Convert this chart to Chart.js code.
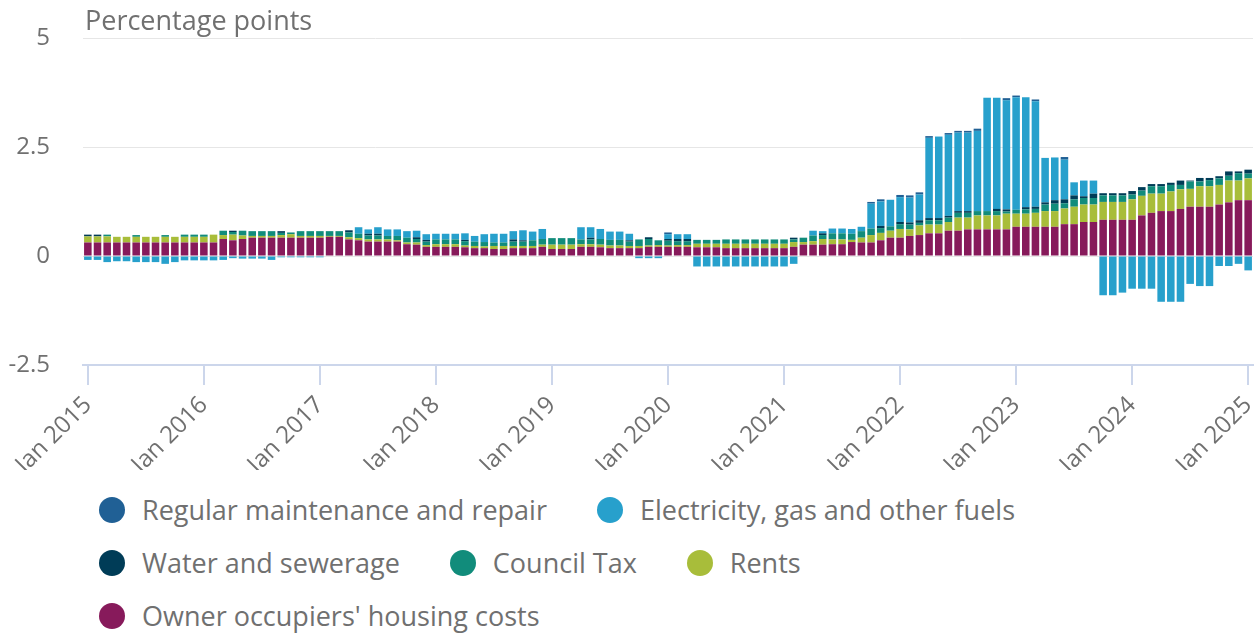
<!DOCTYPE html>
<html>
<head>
<meta charset="utf-8">
<script src="https://cdn.jsdelivr.net/npm/chart.js@4.4.1/dist/chart.umd.min.js"></script>
<style>
  body { margin: 0; background: #fff; font-family: 'Open Sans', sans-serif; }
  #wrap { position: relative; width: 1259px; height: 635px; }
  #box { position: absolute; left: 0; top: 0; width: 1259px; height: 470px; }
  #unit { position: absolute; left: 85px; top: 4px; font-size: 27px; line-height: 32px; color: #707070; }
  #legend { position: absolute; left: 99px; top: 483px; width: 1160px; display: flex; flex-wrap: wrap; }
  .item { display: flex; align-items: center; height: 53px; margin-right: 50px; font-size: 27px; color: #707070; white-space: nowrap; }
  .dot { width: 26px; height: 26px; border-radius: 50%; margin-right: 17px; }
</style>
</head>
<body>
<div id="wrap">
  <div id="box"><canvas id="myChart"></canvas></div>
  <div id="unit">Percentage points</div>
  <div id="legend"></div>
</div>
<script>
// monthly categories, Jan 2015 to Jan 2025
const monthNames = ['Jan', 'Feb', 'Mar', 'Apr', 'May', 'Jun', 'Jul', 'Aug', 'Sep', 'Oct', 'Nov', 'Dec'];
const years = [2015, 2016, 2017, 2018, 2019, 2020, 2021, 2022, 2023, 2024];
const lastLabel = 'Jan 2025';

// contributions, percentage points (one row per year)
const ownerOccupiers = [
    .31, .31, .31, .31, .31, .31, .31, .31, .31, .31, .31, .31,
    .31, .31, .39, .36, .39, .42, .42, .42, .42, .42, .42, .42,
    .42, .44, .44, .38, .36, .33, .33, .33, .33, .27, .26, .21,
    .21, .21, .21, .20, .18, .18, .16, .16, .18, .18, .18, .21,
    .16, .16, .16, .21, .21, .20, .18, .18, .18, .18, .21, .21,
    .21, .21, .21, .20, .20, .20, .18, .18, .18, .18, .18, .18,
    .18, .21, .26, .26, .26, .27, .27, .32, .31, .31, .36, .42,
    .42, .46, .48, .52, .52, .58, .58, .61, .61, .61, .61, .61,
    .67, .67, .67, .67, .67, .73, .73, .78, .78, .83, .83, .83,
    .83, .93, .99, 1.03, 1.03, 1.08, 1.13, 1.13, 1.13, 1.18, 1.23, 1.28,
    1.28
];
const rents = [
    .14, .14, .14, .13, .13, .13, .13, .13, .13, .13, .13, .13,
    .13, .18, .09, .13, .08, .04, .04, .04, .06, .08, .04, .04,
    .04, .02, .02, .05, .05, .05, .05, .05, .03, .04, .05, .04,
    .06, .06, .06, .04, .05, .04, .07, .07, .05, .05, .05, .05,
    .10, .10, .10, .06, .06, .06, .06, .06, .05, .05, .03, .04,
    .03, .04, .04, .08, .08, .08, .10, .10, .10, .10, .10, .10,
    .10, .11, .06, .08, .13, .11, .11, .05, .11, .17, .17, .16,
    .20, .15, .22, .20, .20, .20, .30, .27, .32, .32, .32, .36,
    .30, .30, .32, .36, .36, .36, .40, .40, .40, .41, .41, .41,
    .47, .45, .44, .40, .45, .45, .41, .47, .47, .45, .50, .45,
    .50
];
const councilTax = [
    0, 0, .04, 0, 0, .04, 0, 0, .04, 0, .05, .05,
    .05, 0, .10, .06, .11, .11, .11, .11, .05, .04, .11, .11,
    .11, .11, .11, .11, .10, .09, .09, .08, .10, .11, .08, .08,
    .11, .11, .11, .10, .10, .10, .08, .08, .10, .10, .13, .13,
    .15, .15, .15, .11, .11, .13, .13, .13, .10, .15, .15, .11,
    .11, .09, .09, .09, .09, .09, .10, .10, .10, .10, .10, .10,
    .10, .06, .10, .13, .09, .14, .14, .14, .15, .15, .11, .10,
    .11, .11, .06, .10, .10, .10, .11, .11, .10, .10, .10, .05,
    .09, .10, .09, .15, .17, .12, .17, .15, .15, .15, .15, .15,
    .11, .12, .17, .17, .15, .10, .17, .11, .14, .15, .11, .17,
    .11
];
const water = [
    .04, .04, 0, 0, 0, 0, 0, 0, 0, 0, 0, 0,
    0, 0, 0, .03, 0, 0, 0, 0, .04, 0, 0, 0,
    0, 0, 0, .05, 0, .04, .04, 0, 0, 0, .04, .04,
    0, 0, 0, .03, 0, 0, 0, 0, .05, .03, 0, 0,
    0, 0, 0, 0, .04, 0, 0, 0, .03, 0, .04, 0,
    .04, .05, .05, 0, 0, 0, 0, 0, 0, 0, 0, 0,
    0, .04, 0, 0, .04, 0, 0, 0, 0, 0, .05, 0,
    .05, .05, .06, .05, .05, .04, .04, .04, 0, 0, .05, .05,
    0, .05, .05, .05, .08, .09, .09, .04, .10, .05, .05, .05,
    .08, .08, .05, .05, .05, .10, .02, .08, .05, .05, .10, .04,
    .09
];
const electricity = [
    -.09, -.09, -.14, -.12, -.12, -.14, -.14, -.14, -.18, -.14, -.10, -.10,
    -.10, -.10, -.09, -.05, -.06, -.06, -.06, -.09, -.03, -.03, -.03, -.03,
    -.03, 0, 0, 0, .15, .10, .15, .15, .15, .15, .15, .13,
    .13, .13, .13, .15, .13, .18, .20, .20, .19, .23, .20, .23,
    0, 0, 0, .28, .24, .23, .19, .19, .15, -.05, -.05, -.05,
    .11, .11, .11, -.24, -.24, -.24, -.24, -.24, -.24, -.24, -.24, -.24,
    -.24, -.18, 0, .11, .05, .11, .11, .11, .10, .57, .56, .61,
    .57, .57, .59, 1.84, 1.87, 1.86, 1.80, 1.80, 1.84, 2.60, 2.55, 2.50,
    2.58, 2.52, 2.42, 1.02, .98, .91, .30, .36, .30, -.90, -.90, -.84,
    -.75, -.75, -.75, -1.05, -1.05, -1.05, -.64, -.69, -.69, -.23, -.23, -.18,
    -.33
];
const maintenance = [
    0, 0, 0, 0, 0, 0, 0, 0, 0, 0, 0, 0,
    0, 0, 0, 0, 0, 0, 0, 0, 0, 0, 0, 0,
    0, 0, 0, 0, 0, 0, 0, 0, 0, 0, 0, 0,
    0, 0, 0, 0, 0, 0, 0, 0, 0, 0, 0, 0,
    0, 0, 0, 0, 0, 0, 0, 0, 0, 0, 0, 0,
    .04, 0, 0, 0, 0, 0, 0, 0, 0, 0, 0, 0,
    0, 0, 0, 0, 0, 0, 0, 0, 0, .04, .05, 0,
    .05, .05, .05, .04, 0, .04, .04, .04, .05, 0, 0, .05,
    .04, 0, .04, 0, 0, .06, 0, 0, 0, 0, 0, 0,
    0, 0, 0, 0, 0, 0, 0, 0, 0, 0, 0, 0,
    0
];

const labels = [];
years.forEach(y => monthNames.forEach(m => labels.push(m + ' ' + y)));
labels.push(lastLabel);

// bottom of the stack first
const series = [
    { label: "Owner occupiers' housing costs", data: ownerOccupiers, color: '#871a5b' },
    { label: 'Rents', data: rents, color: '#a8bd3a' },
    { label: 'Council Tax', data: councilTax, color: '#118c7b' },
    { label: 'Water and sewerage', data: water, color: '#003c57' },
    { label: 'Electricity, gas and other fuels', data: electricity, color: '#27a0cc' },
    { label: 'Regular maintenance and repair', data: maintenance, color: '#206095' }
];

Chart.defaults.font.family = "'Open Sans', sans-serif";
Chart.defaults.color = '#707070';

const ctx = document.getElementById('myChart');
new Chart(ctx, {
    type: 'bar',
    data: {
        labels: labels,
        datasets: series.map(s => ({
            label: s.label,
            data: s.data,
            backgroundColor: s.color,
            borderWidth: 0,
            barPercentage: 0.78,
            categoryPercentage: 1
        }))
    },
    options: {
        responsive: true,
        maintainAspectRatio: false,
        animation: false,
        layout: { padding: { left: 0, right: 6, top: 38, bottom: 0 } },
        plugins: {
            legend: { display: false },
            tooltip: { enabled: false }
        },
        scales: {
            x: {
                stacked: true,
                grid: { offset: false, drawOnChartArea: false, color: '#ccd6eb', lineWidth: 2, tickLength: 20 },
                border: { color: '#ccd6eb', width: 2 },
                ticks: {
                    autoSkip: false,
                    maxRotation: 45,
                    minRotation: 45,
                    padding: 6,
                    color: '#707070',
                    font: { size: 24 },
                    callback: (v, i) => (i % 12 === 0 ? labels[i] : null)
                },
                afterFit: (scale) => {
                    scale.height = 105;
                    scale.paddingLeft = 0;
                    scale.paddingRight = 0;
                }
            },
            y: {
                stacked: true,
                min: -2.5,
                max: 5,
                ticks: { stepSize: 2.5, padding: 33, color: '#707070', font: { size: 24 } },
                grid: { color: '#e6e6e6', drawTicks: false },
                border: { display: false },
                afterFit: (scale) => {
                    scale.width = 83;
                    scale.paddingTop = 0;
                    scale.paddingBottom = 0;
                }
            }
        }
    }
});

// legend in the original order (top of stack first)
const legendBox = document.getElementById('legend');
series.slice().reverse().forEach(s => {
    const item = document.createElement('div');
    item.className = 'item';
    item.innerHTML = '<span class="dot" style="background:' + s.color + '"></span>' + s.label;
    legendBox.appendChild(item);
});
</script>
</body>
</html>
